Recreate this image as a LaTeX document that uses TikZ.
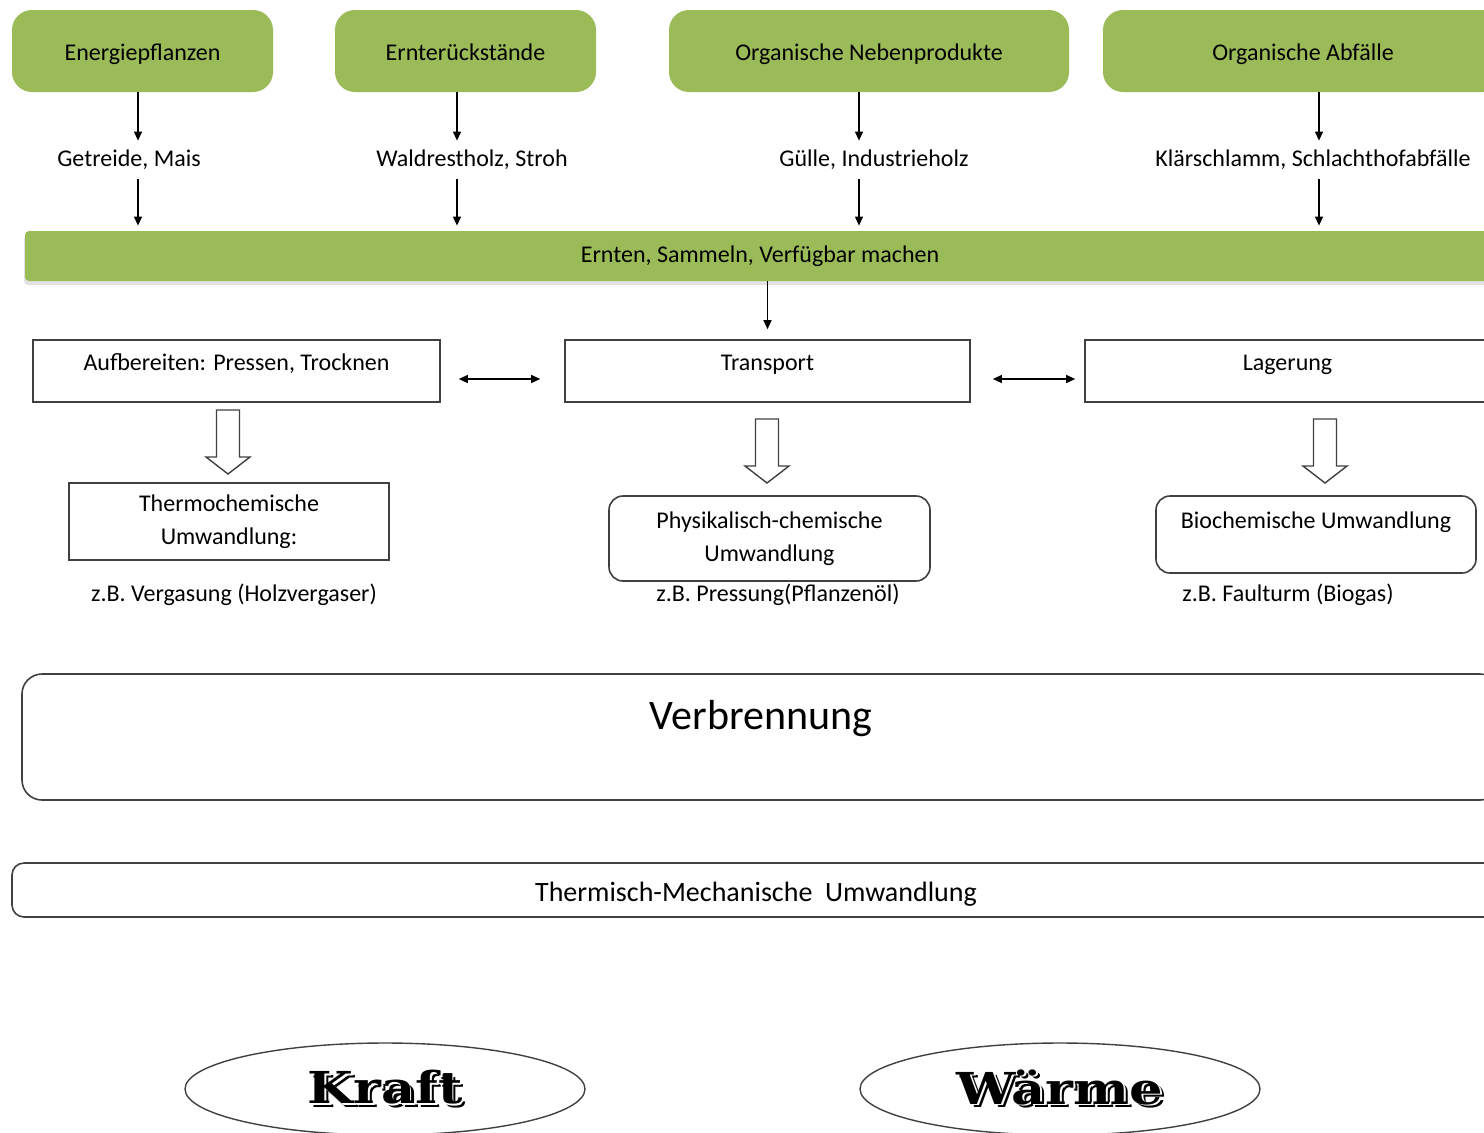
\documentclass[tikz,border=0pt]{standalone}
\usepackage{fontspec}
\setmainfont{Carlito}
\newfontfamily\schildfont{DejaVu Serif}
\usetikzlibrary{arrows.meta,shapes.geometric,shadows}
\definecolor{gruen}{HTML}{9BBB59}
\definecolor{rand}{HTML}{404040}
\newcommand{\schatten}[1]{\scalebox{1.2}[1]{\makebox[0pt][l]{\hspace{1.6pt}\raisebox{-1.6pt}{#1}}\makebox[0pt][l]{\hspace{0.7pt}\raisebox{-0.7pt}{\color{white}#1}}#1}}

\begin{document}
\begin{tikzpicture}[x=0.5pt,y=-0.5pt,
    every node/.style={font=\fontsize{12}{16.5}\selectfont},
    quelle/.style={fill=gruen, rounded corners=10pt, minimum height=41pt, text height=10pt, text depth=1pt},
    stoff/.style={inner sep=0pt, minimum height=19pt},
    kasten/.style={draw=rand, line width=0.8pt},
    oben/.style={text height=9pt, text depth=10pt},
    pfeil/.style={-{Triangle[length=4.5pt,width=4pt]}, line width=0.6pt},
    dpfeil/.style={{Triangle[length=4.5pt,width=4pt]}-{Triangle[length=4.5pt,width=4pt]}, line width=0.6pt},
    hohlpfeil/.pic={\draw[draw=rand, line width=0.7pt, fill=white] (-11.5,0) -- (-11.5,47) -- (-22,47) -- (0,64) -- (22,47) -- (11.5,47) -- (11.5,0) -- cycle;},
    titel/.style={font=\schildfont\bfseries\fontsize{22}{24}\selectfont, inner sep=0pt}]
  \useasboundingbox (0,0) rectangle (1484,1132);
  \clip (0,0) rectangle (1484,1132);

  % Quellen
  \node[quelle, minimum width=130.5pt] (q1) at (142.5,51) {Energiepflanzen};
  \node[quelle, minimum width=130.5pt] (q2) at (465.5,51) {Ernterückstände};
  \node[quelle, minimum width=200pt] (q3) at (869,51) {Organische Nebenprodukte};
  \node[quelle, minimum width=200pt] (q4) at (1303,51) {Organische Abfälle};

  \node[stoff] (s1) at (129,160) {Getreide, Mais};
  \node[stoff] (s2) at (472,160) {Waldrestholz, Stroh};
  \node[stoff] (s3) at (874,160) {Gülle, Industrieholz};
  \node[stoff] (s4) at (1313,160) {Klärschlamm, Schlachthofabfälle};

  \node[fill=gruen, minimum width=735pt, minimum height=25pt, rounded corners=2pt,
        drop shadow={shadow xshift=-0.5pt, shadow yshift=-2pt, fill=gray!45}] (bar) at (760,256) {Ernten, Sammeln, Verfügbar machen};

  \foreach \n/\x in {1/138,2/457,3/859,4/1319} {
    \coordinate (a\n) at (\x,0);
    \draw[pfeil] (q\n.south -| a\n) -- (s\n.north -| a\n);
    \draw[pfeil, shorten >=2.5pt] (s\n.south -| a\n) -- (bar.north -| a\n);
  }

  % Logistik
  \node[kasten, oben, minimum width=203.5pt, minimum height=31pt] (aufb) at (236.5,371) {Aufbereiten: Pressen, Trocknen};
  \node[kasten, oben, minimum width=202.5pt, minimum height=31pt] (trans) at (767.5,371) {Transport};
  \node[kasten, oben, minimum width=202.5pt, minimum height=31pt] (lager) at (1287.5,371) {Lagerung};

  \draw[pfeil, shorten >=5pt] (bar.south -| trans) -- (trans.north);
  \draw[dpfeil, shorten <=9pt, shorten >=12pt] ([yshift=-4pt]aufb.east) -- ([yshift=-4pt]trans.west);
  \draw[dpfeil, shorten <=11pt, shorten >=4.5pt] ([yshift=-4pt]trans.east) -- ([yshift=-4pt]lager.west);

  \pic at (228,410) {hohlpfeil};
  \pic at (767,419) {hohlpfeil};
  \pic at (1325,419) {hohlpfeil};

  % Umwandlung
  \node[kasten, align=center, minimum width=160pt, minimum height=38.5pt] (thermo) at (229,521.5) {Thermochemische\\Umwandlung:};
  \node[kasten, align=center, rounded corners=7pt, minimum width=160.5pt, minimum height=42.5pt] (phys) at (769.5,538.5) {Physikalisch-chemische\\Umwandlung};
  \node[kasten, rounded corners=7pt, text height=9pt, text depth=15.5pt, minimum width=160pt, minimum height=38.5pt] (bio) at (1316,534.5) {Biochemische Umwandlung};

  \node (bsp1) at (234,595) {z.B. Vergasung (Holzvergaser)};
  \node (bsp2) at (778,595) {z.B. Pressung(Pflanzenöl)};
  \node (bsp3) at (1288,595) {z.B. Faulturm (Biogas)};

  \node[kasten, rounded corners=10pt, minimum width=739pt, minimum height=63pt, font=\fontsize{21}{24}\selectfont,
        text height=16pt, text depth=24pt] (verbr) at (761,737) {Verbrennung};
  \node[kasten, rounded corners=6pt, minimum width=744pt, minimum height=27pt, font=\fontsize{14}{16}\selectfont,
        text height=12pt, text depth=0.6pt] (tmu) at (756,890) {Thermisch-Mechanische\ \ Umwandlung};

  % Nutzen
  \node[ellipse, draw=rand, line width=0.7pt, minimum width=200pt, minimum height=46pt] (kraft) at (385,1089) {};
  \node[ellipse, draw=rand, line width=0.7pt, minimum width=200pt, minimum height=46pt] (waerme) at (1060,1089) {};
  \node[titel] (kt) at (kraft) {\schatten{Kraft}};
  \node[titel] (wt) at (waerme) {\schatten{Wärme}};
\end{tikzpicture}
\end{document}
